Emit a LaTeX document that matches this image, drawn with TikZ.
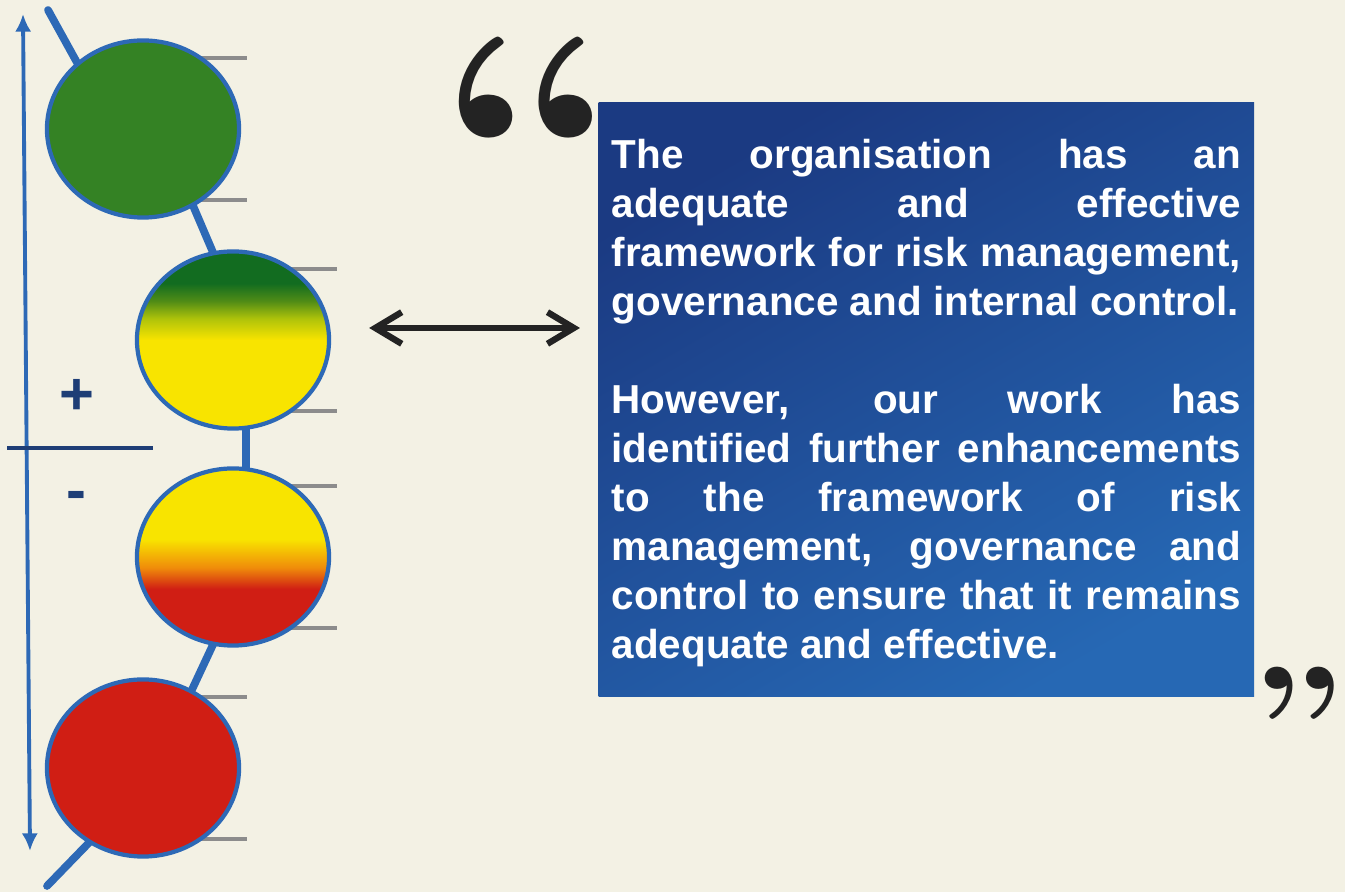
\documentclass[tikz,border=0pt]{standalone}
\usepackage{fontspec}
\setsansfont{Liberation Sans}
\usepackage{tikz}
\usetikzlibrary{arrows.meta,shapes.geometric,backgrounds,positioning}

\definecolor{paper}{RGB}{243,241,228}
\definecolor{ringblue}{RGB}{45,105,182}
\definecolor{navy}{RGB}{30,62,118}
\definecolor{tickgray}{RGB}{140,140,140}
\definecolor{okgreen}{RGB}{52,130,36}
\definecolor{darkgreen}{RGB}{18,108,32}
\definecolor{midgreen}{RGB}{80,140,22}
\definecolor{limegreen}{RGB}{175,195,10}
\definecolor{sunyellow}{RGB}{248,228,0}
\definecolor{amber}{RGB}{240,140,10}
\definecolor{alarmred}{RGB}{208,30,20}
\definecolor{boxtop}{RGB}{27,58,130}
\definecolor{boxbottom}{RGB}{38,104,180}
\definecolor{inkblack}{RGB}{35,35,35}

\pgfdeclareverticalshading{greenyellow}{100bp}{color(0bp)=(sunyellow); color(50bp)=(sunyellow); color(56bp)=(limegreen); color(61bp)=(midgreen); color(66bp)=(darkgreen); color(100bp)=(darkgreen)}
\pgfdeclareverticalshading{yellowred}{100bp}{color(0bp)=(alarmred); color(41bp)=(alarmred); color(47bp)=(amber); color(55bp)=(sunyellow); color(100bp)=(sunyellow)}

\begin{document}
\begin{tikzpicture}[x=0.01cm, y=-0.01cm,
    light/.style = {ellipse, draw=ringblue, line width=1.2pt, minimum width=1.92cm, minimum height=1.77cm, inner sep=0pt},
    tick/.style = {draw=tickgray, line width=1.1pt},
    spine/.style = {draw=ringblue, line width=2.2pt, line cap=round},
    axis/.style = {draw=ringblue, line width=1.1pt, {Latex[length=5pt,width=4.6pt]}-{Latex[length=5pt,width=4.6pt]}},
    sign/.style = {text=navy, font=\sffamily\fontsize{17}{17}\selectfont\bfseries, inner sep=0pt},
    dblarrow/.style = {draw=inkblack, line width=1.8pt, {Straight Barb[length=7.5pt,width=9pt]}-{Straight Barb[length=7.5pt,width=9pt]}},
    panel/.style = {rectangle, top color=boxtop, bottom color=boxbottom, shading angle=30, minimum width=6.55cm, minimum height=5.93cm, inner sep=0pt},
    words/.style = {text width=6.29cm, align=justify, text=white, inner sep=0pt, font=\sffamily\fontsize{11.5}{13.95}\selectfont\bfseries},
    bigquote/.style = {text=inkblack, inner sep=0pt}]
\useasboundingbox (0,0) rectangle (1345,892);

% traffic lights
\node[light, fill=okgreen] (G) at (143,129) {};
\node[light, shading=greenyellow] (GY) at (233,340) {};
\node[light, shading=yellowred] (YR) at (233,557) {};
\node[light, fill=alarmred] (R) at (143,768) {};

% scale on the left
\coordinate (high) at (23,14);
\coordinate (low) at (30,851);
\draw[axis] (low) -- (high);
\coordinate (divL) at (7,448);
\coordinate (divR) at (153,448);
\draw[navy, line width=1.1pt] (divL) -- (divR);
\node[sign] (plus) at (77,397) {+};
\node[sign] (minus) at (76,501) {-};

% statement
\node[panel, anchor=north west] (box) at (598,102) {};
\node[words, below right=0.36cm and 0.13cm of box.north west] (statement) {The organisation has an\linebreak
adequate and effective\linebreak
framework for risk management,\linebreak
governance and internal control.\par\vspace{\baselineskip}
However, our work has\linebreak
identified further enhancements\linebreak
to the framework of risk\linebreak
management, governance and\linebreak
control to ensure that it remains\linebreak
adequate and effective.};

\node[bigquote, anchor=base west, font=\rmfamily\bfseries\fontsize{85}{85}\selectfont] (open) at (436,245) {\makebox[1.56cm][l]{\scalebox{1.12}[1]{“}}};
\node[bigquote, anchor=base west, font=\rmfamily\bfseries\fontsize{44}{44}\selectfont] (close) at (1250,775) {\makebox[0.84cm][l]{\scalebox{1.12}[1]{”}}};

\draw[dblarrow] ([xshift=0.38cm,yshift=0.12cm]GY.east) -- ([xshift=-0.18cm,yshift=0.12cm]GY.east -| box.west);

\begin{scope}[on background layer]
\fill[paper] (0,0) rectangle (1345,892);
\foreach \n in {G,GY,YR,R} {
  \draw[tick] ([yshift=0.71cm]\n.center) -- ++(104,0);
  \draw[tick] ([yshift=-0.71cm]\n.center) -- ++(104,0);
}
\coordinate (spinetop) at (48,10);
\coordinate (spinebot) at (47,886);
\draw[spine] (spinetop) -- ([shift={(-125:5pt)}]G.125);
\draw[spine, shorten <=-4pt, shorten >=-4pt] (G.-57) -- (GY.103);
\draw[spine, shorten <=-4pt, shorten >=-4pt] (GY.-82) -- (YR.82);
\draw[spine, shorten <=-4pt, shorten >=-4pt] (YR.-103) -- (R.58);
\draw[spine] ([shift={(56:5pt)}]R.-124) -- (spinebot);
\end{scope}
\end{tikzpicture}
\end{document}
